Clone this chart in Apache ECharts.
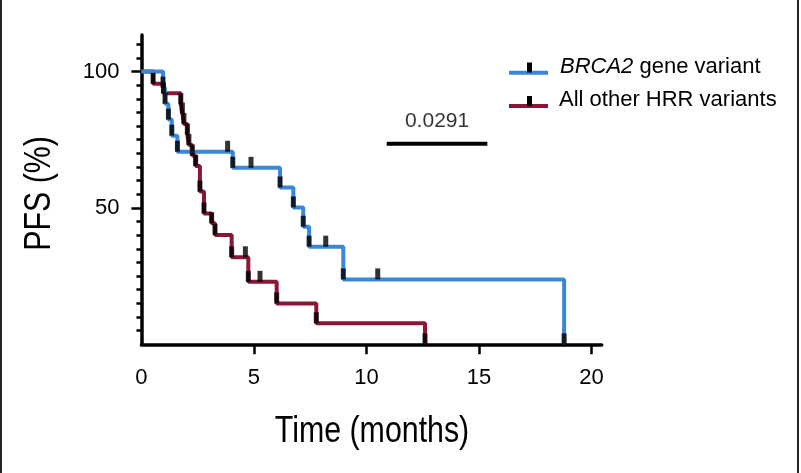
<!DOCTYPE html>
<html><head><meta charset="utf-8">
<script src="https://cdn.jsdelivr.net/npm/echarts@6/dist/echarts.min.js"></script>
<style>html,body{margin:0;padding:0;background:#fff}#c{width:801px;height:473px}</style>
</head><body><div id="c"></div>
<script>
// ---- data ----
const blueTimes = [0, 0.96, 1.05, 1.2, 1.35, 1.6, 4.06, 6.16, 6.75, 7.19, 7.45, 8.97, 18.78];
const blueSurv  = [100, 94.1, 88.2, 82.4, 76.5, 70.6, 64.7, 57.5, 50.2, 43.1, 35.8, 23.8, 0];
const blueCensorTimes = [3.83, 4.87, 8.19, 10.5];
const blueCensorSurv  = [70.6, 64.7, 35.8, 23.8];

const redTimes = [0, 0.52, 0.98, 1.75, 1.82, 1.89, 2.04, 2.11, 2.26, 2.41, 2.6, 2.78, 3.12, 3.27, 4.01, 4.75, 6.01, 7.77, 12.6];
const redSurv  = [100, 95.5, 92, 88, 84.6, 80.8, 76.9, 73.1, 69.2, 65.4, 56, 48, 44.4, 40.1, 31.9, 22.9, 15.0, 7.7, 0];
const redCensorTimes = [4.62, 5.27];
const redCensorSurv  = [31.9, 22.9];

const pTimes = [10.9, 15.37];
const pLevel = [73.5, 73.5];
const pText = '0.0291';

const xTickLabels = [0, 5, 10, 15, 20];
const yTickLabels = [50, 100];
const yMinorTicks = [5,10,15,20,25,30,35,40,45,55,60,65,70,75,80,85,90,95,105,110];

const seriesNames = ['BRCA2 gene variant', 'All other HRR variants'];
const xTitle = 'Time (months)';
const yTitle = 'PFS (%)';
// --------------------------------------

const BLUE = '#3a87d8', RED = '#8c1636';
const FONT = '"Liberation Sans", Arial, sans-serif';

function zip(a, b) { return a.map((v, i) => [v, b[i]]); }
function ticks(times, surv, ct, cs) {
  const ev = zip(times, surv).slice(1);
  return ev.concat(zip(ct, cs));
}

const chart = echarts.init(document.getElementById('c'), null, {renderer: 'canvas'});
const tickStyle = {
  type: 'scatter', symbol: 'rect', symbolSize: [5, 11], symbolOffset: [0, '-50%'],
  itemStyle: {color: '#000'}, z: 5, silent: true
};
chart.setOption({
  animation: false,
  backgroundColor: '#fff',
  grid: {left: 141.4, right: 199.3, top: 35, bottom: 128.7, containLabel: false},
  xAxis: {
    type: 'value', min: 0, max: 20.45,
    axisLine: {lineStyle: {color: '#000', width: 3.5}},
    axisTick: {customValues: [5, 10, 15, 20], length: 10, lineStyle: {color: '#000', width: 2.5}},
    axisLabel: {customValues: xTickLabels, fontSize: 22, color: '#000', margin: 23, fontFamily: FONT},
    splitLine: {show: false}
  },
  yAxis: [{
    type: 'value', min: 0, max: 113.4, position: 'left',
    axisLine: {show: true, lineStyle: {color: '#000', width: 3.5}},
    axisTick: {show: true, customValues: yTickLabels, length: 10, lineStyle: {color: '#000', width: 2.5}},
    axisLabel: {customValues: yTickLabels, fontSize: 22, color: '#000', margin: 22, fontFamily: FONT},
    splitLine: {show: false}
  }, {
    type: 'value', min: 0, max: 113.4, position: 'left',
    axisLine: {show: false},
    axisTick: {show: true, customValues: yMinorTicks, length: 5, lineStyle: {color: '#000', width: 2.5}},
    axisLabel: {show: false},
    splitLine: {show: false}
  }],
  series: [
    {name: seriesNames[0], type: 'line', step: 'end', data: zip(blueTimes, blueSurv),
     showSymbol: false, lineStyle: {color: BLUE, width: 4}, z: 3, silent: true},
    {name: seriesNames[1], type: 'line', step: 'end', data: zip(redTimes, redSurv),
     showSymbol: false, lineStyle: {color: RED, width: 4}, z: 2, silent: true},
    Object.assign({data: ticks(blueTimes, blueSurv, blueCensorTimes, blueCensorSurv)}, tickStyle),
    Object.assign({data: ticks(redTimes, redSurv, redCensorTimes, redCensorSurv)}, tickStyle),
    {type: 'line', data: zip(pTimes, pLevel), showSymbol: false,
     lineStyle: {color: '#000', width: 4}, silent: true},
    {type: 'scatter', data: [[(pTimes[0] + pTimes[1]) / 2, pLevel[0]]], symbolSize: 0,
     label: {show: true, position: 'top', distance: 12, formatter: pText,
             fontSize: 21, color: '#000', fontFamily: FONT}, silent: true}
  ],
  graphic: [
    // frame edges
    {type: 'rect', shape: {x: 0, y: 0, width: 2, height: 473}, style: {fill: '#222'}},
    {type: 'rect', shape: {x: 797, y: 0, width: 2, height: 473}, style: {fill: '#222'}},
    // axis titles (condensed)
    {type: 'text', x: 372, y: 432, scaleX: 0.82, style: {
      text: xTitle, align: 'center', verticalAlign: 'middle', font: '37px ' + FONT, fill: '#000'}},
    {type: 'text', x: 40, y: 193.5, rotation: Math.PI / 2, scaleX: 0.82, style: {
      text: yTitle, align: 'center', verticalAlign: 'middle', font: '37px ' + FONT, fill: '#000'}},
    // legend
    {type: 'line', shape: {x1: 509, y1: 72.7, x2: 548, y2: 72.7}, style: {stroke: BLUE, lineWidth: 4}},
    {type: 'rect', shape: {x: 527, y: 62.5, width: 5, height: 10}, style: {fill: '#000'}},
    {type: 'text', x: 560, y: 67, style: {
      text: '{i|BRCA2} gene variant', verticalAlign: 'middle', font: '22px ' + FONT, fill: '#000',
      rich: {i: {fontStyle: 'italic', fontSize: 22, fontFamily: FONT, fill: '#000'}}}},
    {type: 'line', shape: {x1: 509, y1: 106, x2: 548, y2: 106}, style: {stroke: RED, lineWidth: 4}},
    {type: 'rect', shape: {x: 527, y: 96, width: 5, height: 10}, style: {fill: '#000'}},
    {type: 'text', x: 559, y: 100, style: {
      text: seriesNames[1], verticalAlign: 'middle', font: '22px ' + FONT, fill: '#000'}}
  ]
});
</script></body></html>
